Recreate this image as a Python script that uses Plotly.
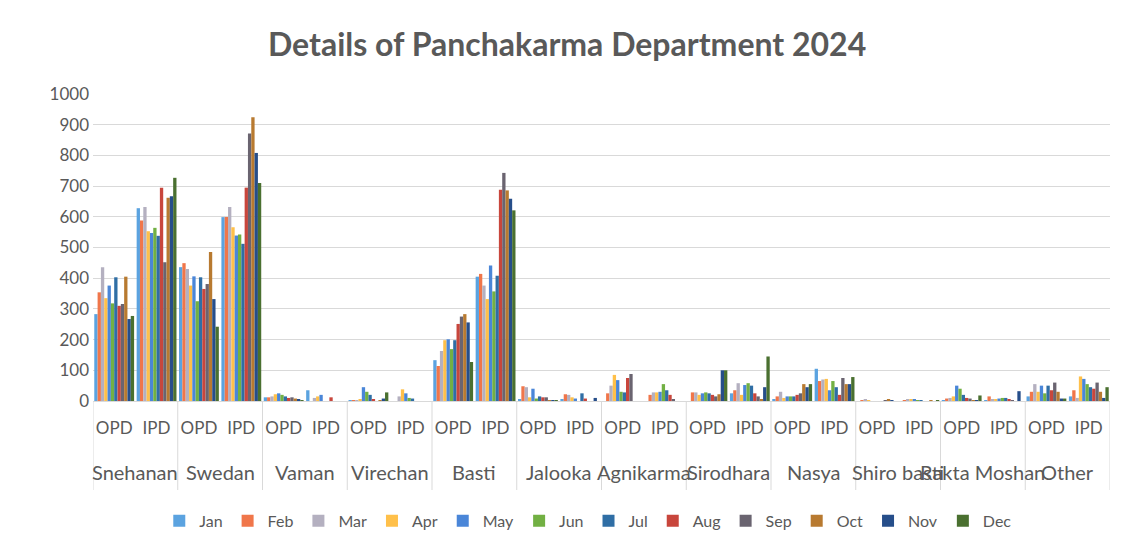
import plotly.graph_objects as go

categories = ["Snehanan", "Swedan", "Vaman", "Virechan", "Basti", "Jalooka", "Agnikarma",
              "Sirodhara", "Nasya", "Shiro basti", "Rakta Moshan", "Other"]
sub_types = ["OPD", "IPD"]
months = ["Jan", "Feb", "Mar", "Apr", "May", "Jun", "Jul", "Aug", "Sep", "Oct", "Nov", "Dec"]

# values per group (category, OPD/IPD), 12 months each
snehanan_opd = [283, 354, 436, 335, 376, 318, 403, 310, 316, 405, 267, 277]
snehanan_ipd = [628, 588, 632, 553, 547, 564, 538, 695, 452, 662, 667, 727]
swedan_opd = [436, 449, 430, 376, 406, 325, 403, 365, 381, 485, 332, 242]
swedan_ipd = [599, 599, 632, 566, 539, 542, 512, 695, 871, 924, 808, 710]
vaman_opd = [12, 12, 15, 22, 25, 20, 15, 10, 12, 8, 5, 3]
vaman_ipd = [35, 0, 10, 15, 20, 0, 0, 12, 0, 0, 0, 0]
virechan_opd = [2, 3, 3, 5, 45, 30, 20, 5, 0, 3, 8, 28]
virechan_ipd = [0, 0, 15, 38, 25, 10, 8, 0, 0, 0, 0, 0]
basti_opd = [133, 114, 163, 198, 201, 169, 198, 251, 275, 283, 256, 127]
basti_ipd = [405, 414, 376, 332, 441, 357, 408, 688, 743, 686, 659, 621]
jalooka_opd = [5, 48, 45, 12, 40, 8, 15, 12, 12, 2, 2, 3]
jalooka_ipd = [5, 22, 20, 12, 8, 0, 25, 8, 0, 0, 10, 0]
agnikarma_opd = [0, 25, 50, 85, 68, 30, 28, 75, 88, 0, 0, 0]
agnikarma_ipd = [0, 20, 28, 28, 30, 55, 35, 20, 5, 0, 0, 0]
sirodhara_opd = [0, 28, 28, 20, 25, 28, 25, 20, 15, 22, 100, 100]
sirodhara_ipd = [25, 35, 58, 20, 52, 58, 50, 25, 15, 5, 45, 145]
nasya_opd = [5, 15, 30, 10, 15, 15, 15, 20, 25, 55, 45, 55]
nasya_ipd = [105, 65, 70, 72, 35, 65, 45, 20, 75, 55, 55, 78]
shiro_opd = [0, 2, 5, 3, 0, 0, 0, 0, 2, 5, 2, 0]
shiro_ipd = [0, 3, 4, 5, 4, 3, 2, 0, 0, 3, 0, 3]
rakta_opd = [3, 8, 10, 15, 50, 40, 20, 10, 8, 3, 2, 18]
rakta_ipd = [3, 15, 5, 5, 8, 10, 10, 5, 3, 0, 32, 0]
other_opd = [15, 30, 55, 30, 50, 25, 50, 35, 60, 30, 8, 8]
other_ipd = [15, 35, 10, 80, 72, 55, 45, 40, 60, 30, 10, 45]

groups = [snehanan_opd, snehanan_ipd, swedan_opd, swedan_ipd, vaman_opd, vaman_ipd,
          virechan_opd, virechan_ipd, basti_opd, basti_ipd, jalooka_opd, jalooka_ipd,
          agnikarma_opd, agnikarma_ipd, sirodhara_opd, sirodhara_ipd, nasya_opd, nasya_ipd,
          shiro_opd, shiro_ipd, rakta_opd, rakta_ipd, other_opd, other_ipd]

colors = ["#5BA3E0", "#F0764A", "#B4B0C0", "#FFC04A", "#4A86D8", "#72B043",
          "#2F6EA5", "#C8463C", "#6A6470", "#B87A30", "#264E8A", "#4A7030"]

x_inner = [s for _ in categories for s in sub_types]
positions = list(range(len(x_inner)))
n_sub = len(sub_types)

fig = go.Figure()
for mi, m in enumerate(months):
    fig.add_trace(go.Bar(
        x=positions,
        y=[g[mi] for g in groups],
        name=m,
        marker=dict(color=colors[mi], line=dict(width=0)),
    ))

font_family = "Lato, 'Open Sans', sans-serif"
text_color = "#595959"
grid_color = "#D9D9D9"

# figure is drawn inside the page body (8px margin), so size it to fit the window
W, H = 1125, 549
plot_h = 307

annotations = []
for i, c in enumerate(categories):
    annotations.append(dict(
        x=i * n_sub + (n_sub - 1) / 2, xref="x",
        y=-71 / plot_h, yref="paper", yanchor="middle", xanchor="center",
        text=c, showarrow=False, font=dict(family=font_family, size=20, color=text_color)))

shapes = []
for k in range(len(categories) + 1):
    xv = k * n_sub - 0.5
    shapes.append(dict(type="line", xref="x", yref="paper", x0=xv, x1=xv,
                       y0=0, y1=-89 / plot_h, line=dict(color=grid_color, width=1)))

fig.update_layout(
    width=W, height=H,
    paper_bgcolor="white", plot_bgcolor="white",
    barmode="group", bargap=0.06, bargroupgap=0.0,
    margin=dict(l=85, r=23, t=86, b=156, autoexpand=False),
    title=dict(text="<b>Details of Panchakarma Department 2024</b>",
               x=0.497, xanchor="center", y=1 - 37 / H, yanchor="middle",
               font=dict(family=font_family, size=32, color=text_color)),
    font=dict(family=font_family, size=17, color=text_color),
    legend=dict(orientation="h", x=0.487, xanchor="center", y=-0.39, yanchor="middle",
                font=dict(size=16, color=text_color), itemwidth=30,
                traceorder="normal"),
    showlegend=True,
    annotations=annotations,
    shapes=shapes,
)
fig.update_yaxes(range=[0, 1000], dtick=100, showgrid=True, gridcolor=grid_color,
                 gridwidth=1, zeroline=False, showline=False, automargin=False,
                 tickfont=dict(size=17, color=text_color), ticks="", ticklabelstandoff=3)
fig.update_xaxes(range=[-0.5, len(positions) - 0.5], tickmode="array",
                 tickvals=positions, ticktext=x_inner, tickangle=0,
                 showline=True, linecolor=grid_color, linewidth=1, automargin=False,
                 showgrid=False, zeroline=False, ticks="", ticklabelstandoff=12,
                 tickfont=dict(size=17, color=text_color))

fig.write_html("out.html")
